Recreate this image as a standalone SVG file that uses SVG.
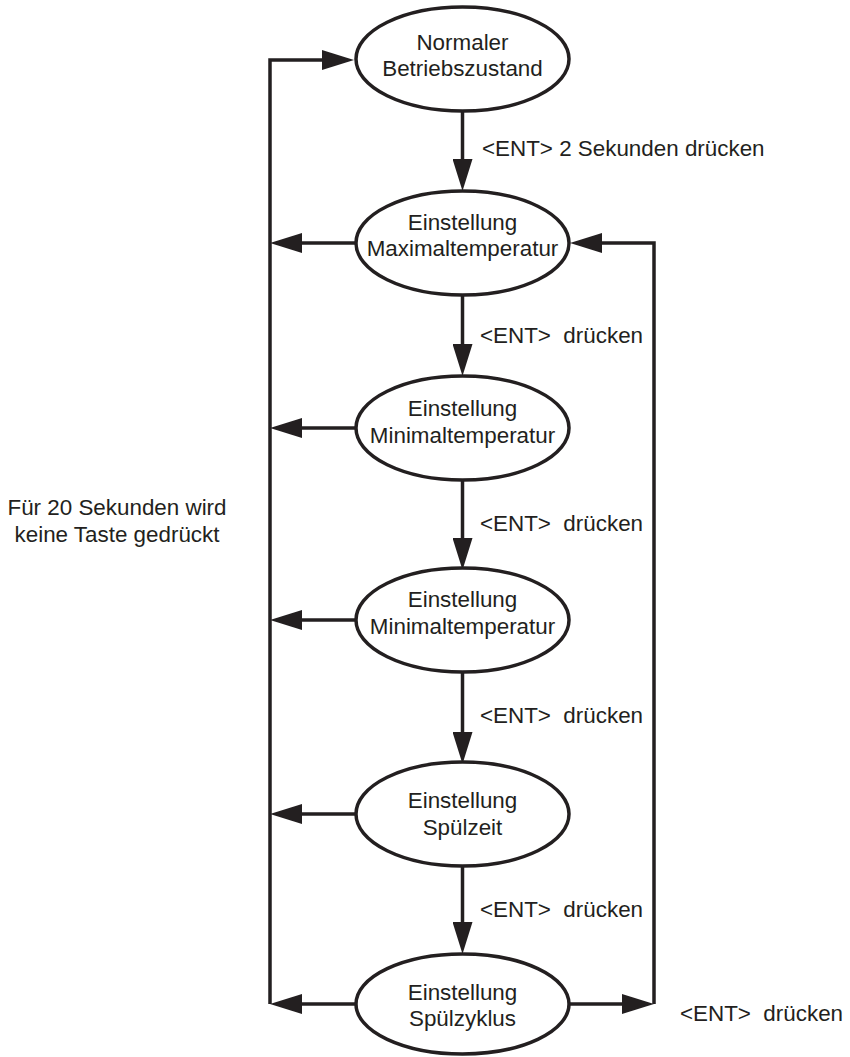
<svg xmlns="http://www.w3.org/2000/svg" width="850" height="1057" viewBox="0 0 850 1057">
<style>
.n{fill:#fff;stroke:#231f20;stroke-width:3.5}
.t{font-family:"Liberation Sans",Arial,sans-serif;font-size:22.4px;fill:#231f20}
.c{text-anchor:middle}
.e{fill:none;stroke:#231f20;stroke-width:3.5;stroke-linejoin:miter}
</style>
<defs>
<marker id="ah" markerUnits="userSpaceOnUse" markerWidth="32" markerHeight="20" refX="24" refY="10" orient="auto" viewBox="0 0 32 20">
<path d="M0,0 L32,10 L0,20 z" fill="#231f20"/>
</marker>
</defs>
<g id="connectors">
<path class="e" d="M270,1004 L270,60 L346,60" marker-end="url(#ah)"/>
<path class="e" d="M462.5,111 L462.5,183" marker-end="url(#ah)"/>
<path class="e" d="M462.5,295 L462.5,368" marker-end="url(#ah)"/>
<path class="e" d="M462.5,480 L462.5,562" marker-end="url(#ah)"/>
<path class="e" d="M462.5,672 L462.5,756" marker-end="url(#ah)"/>
<path class="e" d="M462.5,866 L462.5,946" marker-end="url(#ah)"/>
<path class="e" d="M356,243 L278,243" marker-end="url(#ah)"/>
<path class="e" d="M356,428 L278,428" marker-end="url(#ah)"/>
<path class="e" d="M356,620 L278,620" marker-end="url(#ah)"/>
<path class="e" d="M356,814 L278,814" marker-end="url(#ah)"/>
<path class="e" d="M356,1004 L278,1004" marker-end="url(#ah)"/>
<path class="e" d="M654,1004 L654,243 L578,243" marker-end="url(#ah)"/>
<path class="e" d="M569,1004 L646,1004" marker-end="url(#ah)"/>
<text class="t" x="482" y="156">&lt;ENT&gt; 2 Sekunden drücken</text>
<text class="t" x="480" y="343" xml:space="preserve">&lt;ENT&gt;  drücken</text>
<text class="t" x="480" y="531" xml:space="preserve">&lt;ENT&gt;  drücken</text>
<text class="t" x="480" y="723" xml:space="preserve">&lt;ENT&gt;  drücken</text>
<text class="t" x="480" y="917" xml:space="preserve">&lt;ENT&gt;  drücken</text>
<text class="t" x="680" y="1021" xml:space="preserve">&lt;ENT&gt;  drücken</text>
<text class="t c" x="117" y="515">Für 20 Sekunden wird</text>
<text class="t c" x="117" y="542">keine Taste gedrückt</text>
</g>
<g id="n1">
<ellipse class="n" cx="462.5" cy="59" rx="106.5" ry="52"/>
<text class="t c" x="462.5" y="50">Normaler</text>
<text class="t c" x="462.5" y="76">Betriebszustand</text>
</g>
<g id="n2">
<ellipse class="n" cx="462.5" cy="243" rx="106.5" ry="52"/>
<text class="t c" x="462.5" y="230">Einstellung</text>
<text class="t c" x="462.5" y="256">Maximaltemperatur</text>
</g>
<g id="n3">
<ellipse class="n" cx="462.5" cy="428" rx="106.5" ry="52"/>
<text class="t c" x="462.5" y="416">Einstellung</text>
<text class="t c" x="462.5" y="443">Minimaltemperatur</text>
</g>
<g id="n4">
<ellipse class="n" cx="462.5" cy="620" rx="106.5" ry="52"/>
<text class="t c" x="462.5" y="607">Einstellung</text>
<text class="t c" x="462.5" y="634">Minimaltemperatur</text>
</g>
<g id="n5">
<ellipse class="n" cx="462.5" cy="814" rx="106.5" ry="52"/>
<text class="t c" x="462.5" y="808">Einstellung</text>
<text class="t c" x="462.5" y="835">Spülzeit</text>
</g>
<g id="n6">
<ellipse class="n" cx="462.5" cy="1004" rx="106.5" ry="50"/>
<text class="t c" x="462.5" y="1000">Einstellung</text>
<text class="t c" x="462.5" y="1026">Spülzyklus</text>
</g>
</svg>
